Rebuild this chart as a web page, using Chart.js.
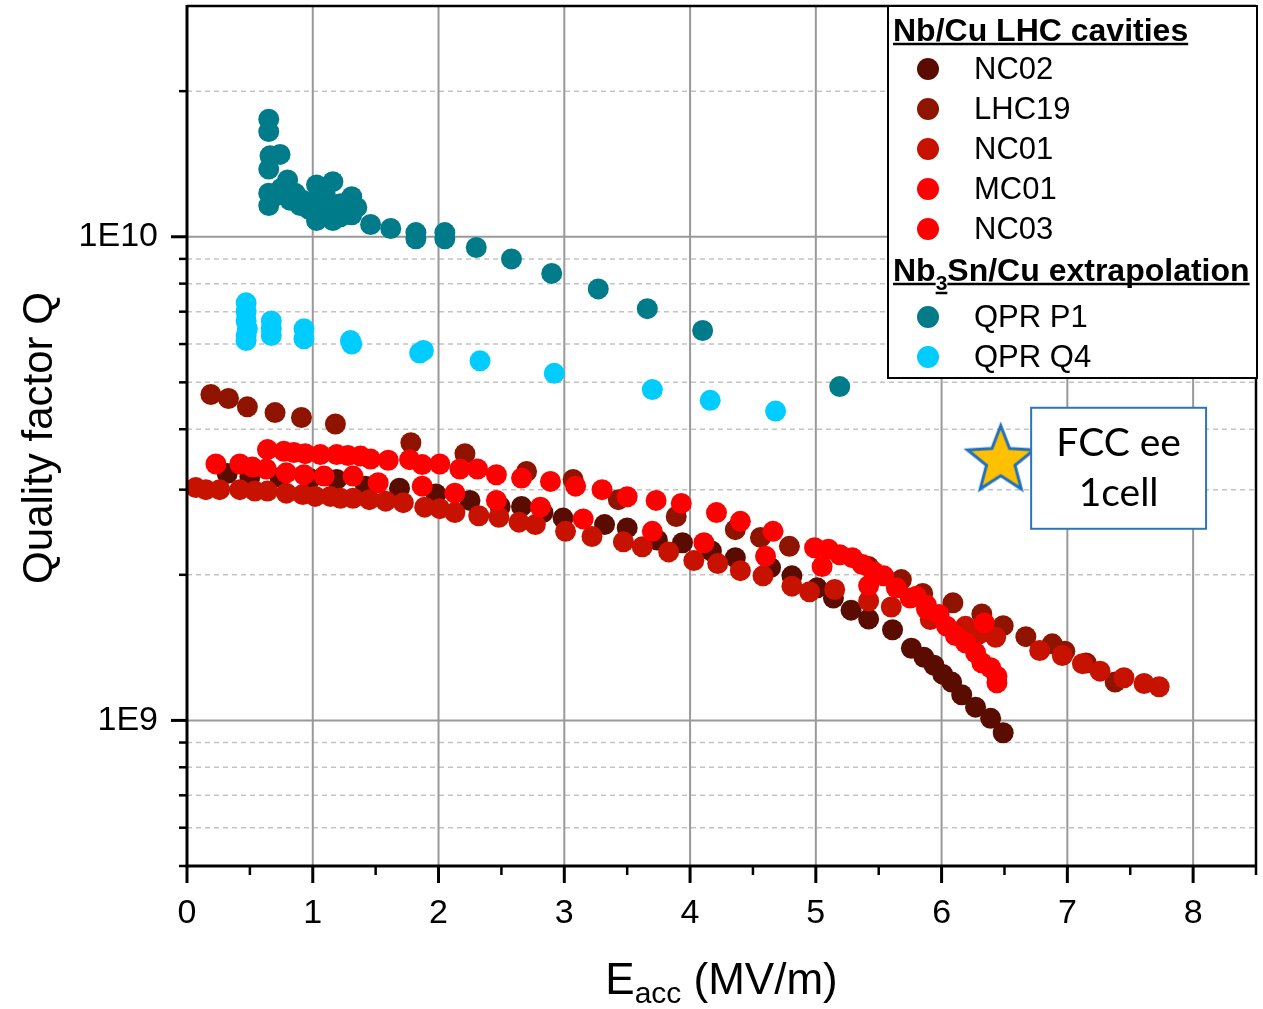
<!DOCTYPE html>
<html>
<head>
<meta charset="utf-8">
<script src="https://cdn.jsdelivr.net/npm/chart.js@4.4.1/dist/chart.umd.min.js"></script>
<style>
  html, body { margin: 0; padding: 0; background: #fff; }
  canvas { display: block; }
</style>
</head>
<body>
<canvas id="qeChart" width="1263" height="1009"></canvas>
<script>
// axis ticks
const xMajorTicks = [0, 1, 2, 3, 4, 5, 6, 7, 8];
const xMinorTicks = [0.5, 1.5, 2.5, 3.5, 4.5, 5.5, 6.5, 7.5, 8.5];
const yMajorTicks = [1e9, 1e10];
const yTickLabels = ['1E9', '1E10'];
const yMinorTicks = [5e8, 6e8, 7e8, 8e8, 9e8, 2e9, 3e9, 4e9, 5e9, 6e9, 7e9, 8e9, 9e9, 2e10];

// series: [Eacc (MV/m), Q]
const nc02 = [[0.32,3.24e9],[0.50,3.19e9],[0.74,3.18e9],[0.98,3.16e9],[1.19,3.15e9],[1.42,3.05e9],[1.69,3.02e9],[1.98,2.94e9],[2.25,2.85e9],[2.49,2.77e9],[2.66,2.77e9],[2.83,2.69e9],[2.99,2.62e9],[3.32,2.54e9],[3.50,2.50e9],[3.74,2.36e9],[3.94,2.33e9],[4.17,2.24e9],[4.36,2.17e9],[4.64,2.07e9],[4.81,1.99e9],[5.01,1.88e9],[5.14,1.79e9],[5.28,1.69e9],[5.42,1.62e9],[5.61,1.54e9],[5.76,1.41e9],[5.86,1.35e9],[5.94,1.30e9],[6.01,1.245e9],[6.08,1.20e9],[6.16,1.13e9],[6.27,1.065e9],[6.39,1.01e9],[6.49,0.943e9]];
const lhc19 = [[0.19,4.72e9],[0.33,4.63e9],[0.48,4.45e9],[0.70,4.33e9],[0.91,4.23e9],[1.18,4.10e9],[1.78,3.75e9],[2.21,3.56e9],[2.70,3.27e9],[3.07,3.15e9],[3.43,2.86e9],[3.89,2.64e9],[4.36,2.48e9],[4.56,2.39e9],[4.79,2.29e9],[5.42,2.08e9],[5.68,1.955e9],[5.85,1.83e9],[6.09,1.75e9],[6.32,1.66e9],[6.49,1.57e9],[6.67,1.49e9],[6.88,1.44e9],[6.98,1.39e9],[7.15,1.315e9],[7.38,1.20e9]];
const nc01 = [[0.07,3.03e9],[0.15,3.00e9],[0.26,3.00e9],[0.42,3.00e9],[0.54,2.98e9],[0.64,2.98e9],[0.79,2.95e9],[0.92,2.93e9],[1.02,2.905e9],[1.14,2.905e9],[1.22,2.88e9],[1.32,2.88e9],[1.45,2.86e9],[1.58,2.84e9],[1.72,2.82e9],[1.89,2.76e9],[2.01,2.74e9],[2.13,2.69e9],[2.32,2.65e9],[2.48,2.63e9],[2.64,2.57e9],[2.77,2.54e9],[3.01,2.46e9],[3.22,2.40e9],[3.47,2.34e9],[3.62,2.285e9],[3.83,2.23e9],[4.03,2.14e9],[4.22,2.11e9],[4.40,2.04e9],[4.58,1.99e9],[4.81,1.895e9],[4.95,1.845e9],[5.15,1.865e9],[5.42,1.766e9],[5.60,1.716e9],[5.91,1.617e9],[6.19,1.565e9],[6.30,1.51e9],[6.43,1.486e9],[6.78,1.395e9],[6.96,1.362e9],[7.12,1.31e9],[7.26,1.264e9],[7.45,1.225e9],[7.61,1.192e9],[7.73,1.174e9]];
const mc01 = [[0.64,3.63e9],[0.77,3.60e9],[0.85,3.58e9],[0.94,3.56e9],[1.06,3.545e9],[1.19,3.545e9],[1.28,3.53e9],[1.38,3.52e9],[1.46,3.47e9],[1.60,3.45e9],[1.77,3.46e9],[1.87,3.38e9],[2.01,3.39e9],[2.17,3.31e9],[2.31,3.31e9],[2.46,3.22e9],[2.66,3.17e9],[2.89,3.12e9],[3.09,3.05e9],[3.30,3.00e9],[3.50,2.90e9],[3.73,2.85e9],[3.93,2.81e9],[4.21,2.69e9],[4.40,2.58e9],[4.66,2.46e9],[4.99,2.275e9],[5.10,2.26e9],[5.19,2.20e9],[5.29,2.17e9],[5.37,2.10e9],[5.46,2.03e9],[5.54,1.99e9],[5.64,1.88e9],[5.75,1.79e9],[5.80,1.805e9],[5.88,1.73e9],[5.98,1.656e9],[6.04,1.566e9],[6.11,1.498e9],[6.19,1.447e9],[6.27,1.38e9],[6.32,1.316e9],[6.39,1.285e9],[6.44,1.234e9],[6.44,1.196e9]];
const nc03 = [[0.23,3.39e9],[0.42,3.39e9],[0.52,3.34e9],[0.63,3.31e9],[0.79,3.25e9],[0.93,3.22e9],[1.09,3.20e9],[1.32,3.20e9],[1.52,3.10e9],[1.87,3.05e9],[2.13,2.95e9],[2.46,2.85e9],[2.81,2.76e9],[3.15,2.61e9],[3.70,2.46e9],[4.11,2.33e9],[4.60,2.185e9],[5.05,2.08e9],[5.42,1.90e9],[5.88,1.70e9],[6.34,1.59e9]];
const qprP1 = [[0.65,1.75e10],[0.65,1.65e10],[0.66,1.47e10],[0.74,1.48e10],[0.65,1.38e10],[0.80,1.31e10],[0.65,1.23e10],[0.65,1.16e10],[0.72,1.22e10],[0.75,1.26e10],[0.82,1.19e10],[0.86,1.23e10],[0.90,1.16e10],[0.92,1.19e10],[0.97,1.14e10],[1.03,1.28e10],[1.04,1.19e10],[1.03,1.08e10],[1.10,1.22e10],[1.10,1.13e10],[1.16,1.30e10],[1.16,1.08e10],[1.22,1.17e10],[1.22,1.10e10],[1.31,1.21e10],[1.31,1.11e10],[1.35,1.15e10],[1.46,1.06e10],[1.62,1.04e10],[1.82,1.02e10],[1.82,0.99e10],[2.05,1.02e10],[2.05,0.99e10],[2.30,0.95e10],[2.58,0.90e10],[2.90,0.84e10],[3.27,0.78e10],[3.66,0.71e10],[4.10,0.64e10],[5.19,0.49e10]];
const qprQ4 = [[0.47,7.3e9],[0.47,7.0e9],[0.47,6.7e9],[0.48,6.45e9],[0.47,6.25e9],[0.47,6.1e9],[0.67,6.7e9],[0.67,6.45e9],[0.67,6.25e9],[0.93,6.45e9],[0.93,6.15e9],[1.31,6.0e9],[1.30,6.1e9],[1.85,5.75e9],[1.88,5.82e9],[2.33,5.54e9],[2.92,5.22e9],[3.70,4.83e9],[4.16,4.59e9],[4.68,4.36e9]];
const fccTarget = [[6.47, 3.46e9]];

const FONT = "'Liberation Sans', Arial, sans-serif";

function toPoints(arr) {
    return arr.map(p => ({ x: p[0], y: p[1] }));
}

function makeStar() {
    const c = document.createElement('canvas');
    c.width = 80; c.height = 80;
    const g = c.getContext('2d');
    const R = 35, r = 15;
    g.beginPath();
    for (let i = 0; i < 10; i++) {
        const rad = i % 2 === 0 ? R : r;
        const ang = -Math.PI / 2 + i * Math.PI / 5;
        const px = 40 + rad * Math.cos(ang), py = 41 + rad * Math.sin(ang);
        if (i === 0) g.moveTo(px, py); else g.lineTo(px, py);
    }
    g.closePath();
    g.fillStyle = '#FFC000';
    g.fill();
    g.lineWidth = 3;
    g.strokeStyle = '#1F6FBF';
    g.lineJoin = 'miter';
    g.stroke();
    return c;
}

function series(label, data, color, order) {
    return {
        label: label,
        data: toPoints(data),
        backgroundColor: color,
        borderColor: color,
        borderWidth: 0,
        pointRadius: 10.5,
        pointHoverRadius: 10.5,
        showLine: false,
        order: order
    };
}

const datasets = [
    series('NC02', nc02, '#5A0C00', 7),
    series('LHC19', lhc19, '#8E1400', 6),
    series('NC01', nc01, '#C81200', 5),
    series('MC01', mc01, '#FF0000', 4),
    series('NC03', nc03, '#FF0000', 3),
    series('QPR P1', qprP1, '#007B8A', 2),
    series('QPR Q4', qprQ4, '#00CCFF', 1),
    {
        label: 'FCC ee',
        data: toPoints(fccTarget),
        pointStyle: makeStar(),
        showLine: false,
        order: 0
    }
];

const legendGroups = [
    { title: ['Nb/Cu LHC cavities'], items: ['NC02', 'LHC19', 'NC01', 'MC01', 'NC03'] },
    { title: ['Nb', '3', 'Sn/Cu extrapolation'], items: ['QPR P1', 'QPR Q4'] }
];

function line(ctx, x1, y1, x2, y2) {
    ctx.beginPath();
    ctx.moveTo(x1, y1);
    ctx.lineTo(x2, y2);
    ctx.stroke();
}

const decorPlugin = {
    id: 'decor',
    beforeDatasetsDraw(chart) {
        const { ctx, chartArea: a, scales: { x, y } } = chart;
        ctx.save();
        ctx.strokeStyle = '#C4C4C4';
        ctx.lineWidth = 1.5;
        ctx.setLineDash([5, 4]);
        yMinorTicks.forEach(v => {
            const py = y.getPixelForValue(v);
            if (py > a.top + 1 && py < a.bottom - 1) line(ctx, a.left, py, a.right, py);
        });
        ctx.setLineDash([]);
        ctx.strokeStyle = '#999999';
        ctx.lineWidth = 2;
        yMajorTicks.forEach(v => {
            const py = y.getPixelForValue(v);
            line(ctx, a.left, py, a.right, py);
        });
        xMajorTicks.forEach(v => {
            if (v === 0) return;
            const px = x.getPixelForValue(v);
            line(ctx, px, a.top, px, a.bottom);
        });
        ctx.restore();
    },
    afterDatasetsDraw(chart) {
        const { ctx, chartArea: a, scales: { x, y } } = chart;
        ctx.save();
        ctx.strokeStyle = '#000';
        ctx.lineCap = 'butt';
        // frame
        ctx.lineWidth = 2.5;
        line(ctx, a.left, a.top, a.right, a.top);
        line(ctx, a.right, a.top, a.right, a.bottom);
        ctx.lineWidth = 3;
        line(ctx, a.left, a.top - 1, a.left, a.bottom + 1.5);
        line(ctx, a.left - 1.5, a.bottom, a.right + 1, a.bottom);
        // ticks
        ctx.lineWidth = 3;
        yMajorTicks.forEach(v => {
            const py = y.getPixelForValue(v);
            line(ctx, a.left - 16, py, a.left, py);
        });
        xMajorTicks.forEach(v => {
            const px = x.getPixelForValue(v);
            line(ctx, px, a.bottom, px, a.bottom + 17);
        });
        ctx.lineWidth = 2.5;
        yMinorTicks.forEach(v => {
            const py = y.getPixelForValue(v);
            line(ctx, a.left - 8, py, a.left, py);
        });
        xMinorTicks.forEach(v => {
            const px = x.getPixelForValue(v);
            line(ctx, px, a.bottom, px, a.bottom + 9);
        });
        ctx.restore();
    },
    afterDraw(chart) {
        const { ctx, chartArea: a, scales: { x, y } } = chart;
        ctx.save();

        // axis titles
        ctx.fillStyle = '#000';
        ctx.save();
        ctx.translate(40, (a.top + a.bottom) / 2 + 2);
        ctx.rotate(-Math.PI / 2);
        ctx.font = '42px ' + FONT;
        ctx.textAlign = 'center';
        ctx.textBaseline = 'middle';
        ctx.fillText('Quality factor Q', 0, 0);
        ctx.restore();

        ctx.textAlign = 'left';
        ctx.textBaseline = 'alphabetic';
        const bigF = '44px ' + FONT, subF = '30px ' + FONT;
        ctx.font = bigF; const wE = ctx.measureText('E').width;
        ctx.font = subF; const wS = ctx.measureText('acc').width;
        ctx.font = bigF; const wR = ctx.measureText(' (MV/m)').width;
        let tx = (a.left + a.right) / 2 - (wE + wS + wR) / 2;
        ctx.font = bigF; ctx.fillText('E', tx, 994); tx += wE;
        ctx.font = subF; ctx.fillText('acc', tx, 1003); tx += wS;
        ctx.font = bigF; ctx.fillText(' (MV/m)', tx, 994);

        // legend
        const L = 888, T = 6, R = 1257, B = 378;
        ctx.fillStyle = '#fff';
        ctx.fillRect(L, T, R - L, B - T);
        ctx.strokeStyle = '#000';
        ctx.lineWidth = 2;
        ctx.strokeRect(L, T, R - L, B - T);

        const colorOf = {};
        chart.data.datasets.forEach(d => { colorOf[d.label] = d.backgroundColor; });

        let rowY = 41;
        legendGroups.forEach((grp, gi) => {
            let hx = 893;
            ctx.fillStyle = '#000';
            ctx.strokeStyle = '#000';
            ctx.lineWidth = 2.5;
            grp.title.forEach((part, pi) => {
                const isSub = grp.title.length === 3 && pi === 1;
                ctx.font = 'bold ' + (isSub ? '21px ' : '32px ') + FONT;
                const w = ctx.measureText(part).width;
                const base = isSub ? rowY + 9 : rowY;
                ctx.fillText(part, hx, base);
                line(ctx, hx, base + 3, hx + w, base + 3);
                hx += w;
            });
            let iy = rowY + (gi === 0 ? 28 : 36);
            ctx.font = '31px ' + FONT;
            ctx.textBaseline = 'middle';
            grp.items.forEach(name => {
                ctx.fillStyle = colorOf[name];
                ctx.beginPath();
                ctx.arc(928, iy, 11, 0, Math.PI * 2);
                ctx.fill();
                ctx.fillStyle = '#000';
                ctx.fillText(name, 974, iy + 1);
                iy += 40;
            });
            ctx.textBaseline = 'alphabetic';
            rowY = iy + 12;
        });

        // FCC ee text box
        const bx0 = x.getPixelForValue(6.712), bx1 = x.getPixelForValue(8.103);
        const by0 = y.getPixelForValue(4.43e9), by1 = y.getPixelForValue(2.49e9);
        ctx.fillStyle = '#fff';
        ctx.fillRect(bx0, by0, bx1 - bx0, by1 - by0);
        ctx.strokeStyle = '#2E75B6';
        ctx.lineWidth = 2;
        ctx.strokeRect(bx0, by0, bx1 - bx0, by1 - by0);
        ctx.fillStyle = '#000';
        ctx.font = '39px Lato, ' + FONT;
        ctx.textAlign = 'center';
        ctx.textBaseline = 'middle';
        const cx = (bx0 + bx1) / 2;
        ctx.fillText('FCC ee', cx, by0 + 36);
        ctx.fillText('1cell', cx, by0 + 86);

        ctx.restore();
    }
};

const ctx = document.getElementById('qeChart').getContext('2d');
new Chart(ctx, {
    type: 'scatter',
    data: { datasets: datasets },
    options: {
        responsive: false,
        animation: false,
        events: [],
        layout: { autoPadding: false, padding: { top: 6, right: 7, left: 0, bottom: 0 } },
        plugins: { legend: { display: false }, tooltip: { enabled: false } },
        scales: {
            x: {
                type: 'linear',
                min: 0,
                max: 8.5,
                afterBuildTicks: s => { s.ticks = xMajorTicks.map(v => ({ value: v })); },
                afterFit: s => { s.height = 143; s.paddingLeft = 0; s.paddingRight = 0; },
                grid: { display: false, drawTicks: false },
                border: { display: false },
                ticks: {
                    autoSkip: false,
                    maxRotation: 0,
                    padding: 27,
                    color: '#000',
                    font: { family: FONT, size: 34 },
                    callback: v => String(v)
                }
            },
            y: {
                type: 'logarithmic',
                min: 5e8,
                max: 3e10,
                afterBuildTicks: s => { s.ticks = yMajorTicks.map(v => ({ value: v })); },
                afterFit: s => { s.width = 187; s.paddingTop = 0; s.paddingBottom = 0; },
                grid: { display: false, drawTicks: false },
                border: { display: false },
                ticks: {
                    autoSkip: false,
                    padding: 29,
                    color: '#000',
                    font: { family: FONT, size: 34 },
                    callback: v => yTickLabels[yMajorTicks.indexOf(v)]
                }
            }
        }
    },
    plugins: [decorPlugin]
});
</script>
</body>
</html>
